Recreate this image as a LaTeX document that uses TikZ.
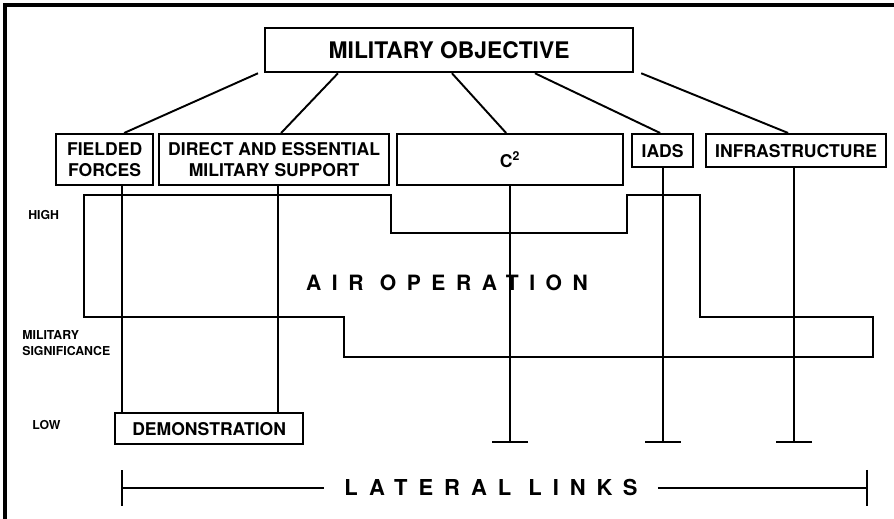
\documentclass[tikz,border=0pt]{standalone}
\usepackage{fontspec}
\setmainfont{TeX Gyre Heros}
\newfontfamily\widefont[LetterSpace=50]{TeX Gyre Heros}
\usetikzlibrary{arrows.meta, positioning}

\begin{document}
\begin{tikzpicture}[
  x=0.02cm, y=-0.02cm,
  box/.style 2 args={
    draw, line width=1.3pt, minimum width=#1, minimum height=#2,
    anchor=north west, align=center, inner sep=0pt,
    font=\fontsize{10}{12}\selectfont\bfseries,
  },
  link/.style={line width=1.1pt},
  tee/.style={-{Bar[width=0.72cm]}, line width=1.1pt},
  side/.style={font=\fontsize{7}{9}\selectfont\bfseries,
    align=left, anchor=west, inner sep=0pt},
  wide/.style={font=\widefont\fontsize{#1}{14}\selectfont\bfseries},
]
\useasboundingbox (0,0) rectangle (894,519);

%% ── Frame ─────────────────────────────────────────────────────────────
\draw[line width=1.8pt] (5,519) -- (5,5) -- (894,5);

%% ── Objective and target sets ─────────────────────────────────────────
\node[box={7.36cm}{0.88cm}, font=\fontsize{13}{15}\selectfont\bfseries]
  (obj) at (264,27) {MILITARY OBJECTIVE};
\node[box={1.94cm}{1.02cm}] (ff) at (55,133) {FIELDED\\FORCES};
\node[box={4.6cm}{1.02cm}] (des) at (158,133)
  {DIRECT AND ESSENTIAL\\MILITARY SUPPORT};
\node[box={4.52cm}{1.02cm}] (cc) at (396,133) {C\textsuperscript{2}};
\node[box={1.22cm}{0.66cm}] (iads) at (631,133) {IADS};
\node[box={3.6cm}{0.66cm}] (infra) at (705,133) {INFRASTRUCTURE};
\node[box={3.76cm}{0.62cm}] (demo) at (114,412) {DEMONSTRATION};

%% ── Significance scale ────────────────────────────────────────────────
\node[side] (high) at (28,215) {HIGH};
\node[side] (sig) at (22,343) {MILITARY\\SIGNIFICANCE};
\node[side] (low) at (32,425) {LOW};

%% ── Air operation outline ─────────────────────────────────────────────
\draw[link] (84,195) -| (391,233) -| (627,195) -| (700,317) -| (873,357)
  -| (344,317) -- (84,317) -- cycle;
\node[wide=12] (air) at (447,283) {AIR OPERATION};

%% ── Links from the objective ──────────────────────────────────────────
\draw[link] ([xshift=-0.12cm]obj.south west) -- ([xshift=0.39cm]ff.north);
\draw[link] ([xshift=1.48cm]obj.south west) -- ([xshift=0.14cm]des.north);
\draw[link] ([xshift=3.76cm]obj.south west) -- ([xshift=-0.08cm]cc.north);
\draw[link] ([xshift=5.42cm]obj.south west) -- ([xshift=-0.05cm]iads.north);
\draw[link] ([xshift=0.14cm]obj.south east) -- ([xshift=-0.16cm]infra.north);

%% ── Drops to low significance ─────────────────────────────────────────
\coordinate (lowline) at (0,443);
\draw[link] ([xshift=0.35cm]ff.south) coordinate (ffs) -- (ffs |- demo.north);
\draw[link] ([xshift=0.08cm]des.south) coordinate (dess) -- (dess |- demo.north);
\draw[tee] (cc.south) -- (cc.south |- lowline);
\draw[tee] (iads.south) -- (iads.south |- lowline);
\draw[tee] ([xshift=-0.04cm]infra.south) coordinate (infs) -- (infs |- lowline);

%% ── Lateral links ─────────────────────────────────────────────────────
\node[wide=12.5, inner xsep=0.4cm] (lat) at (491,488) {LATERAL LINKS};
\coordinate (latL) at (121,488);
\coordinate (latR) at (868,488);
\draw[link, {Bar[width=0.72cm]}-] (latL) -- (lat.west);
\draw[link, -{Bar[width=0.72cm]}] (lat.east) -- (latR);

\end{tikzpicture}
\end{document}
